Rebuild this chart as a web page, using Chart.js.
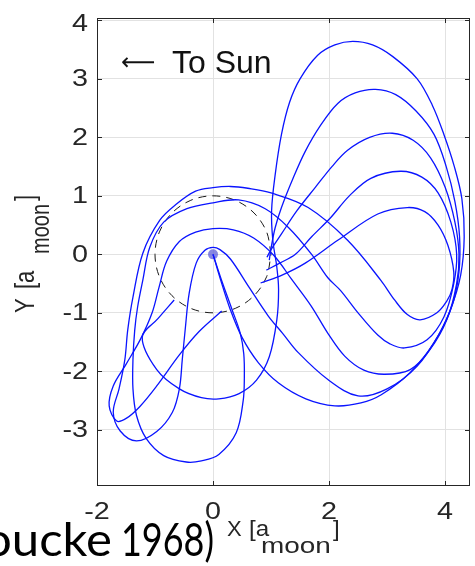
<!DOCTYPE html>
<html>
<head>
<meta charset="utf-8">
<script src="https://cdn.jsdelivr.net/npm/chart.js"></script>
<style>
  html, body { margin: 0; padding: 0; background: #fff; }
  #wrap { width: 475px; height: 566px; overflow: hidden; }
</style>
</head>
<body>
<div id="wrap"><canvas id="orbitChart" width="475" height="566"></canvas></div>
<script>
// -------------------------------
// 1) DATA (units of a_moon)
// -------------------------------

const xTicks = [-2, 0, 2, 4];
const yTicks = [-3, -2, -1, 0, 1, 2, 3, 4];

// moon orbit (dashed)
const moonOrbit = [
  [1, 0], [0.924, 0.383], [0.707, 0.707], [0.383, 0.924], [0, 1],
  [-0.383, 0.924], [-0.707, 0.707], [-0.924, 0.383], [-1, 0],
  [-0.924, -0.383], [-0.707, -0.707], [-0.383, -0.924], [0, -1],
  [0.383, -0.924], [0.707, -0.707], [0.924, -0.383], [1, 0]
];

// earth
const earth = [[0, 0]];

// trajectory through the inner arch and the two small lobes
const trajInner = [
  [0.97, -0.1], [1.0, 0.1], [1.07, 0.45], [1.18, 0.8], [1.38, 1.3], [1.59, 1.76],
  [1.85, 2.2], [2.15, 2.58], [2.45, 2.76], [2.8, 2.82], [3.15, 2.73], [3.5, 2.45],
  [3.81, 2.05], [4.02, 1.5], [4.17, 0.9], [4.25, 0.3], [4.24, -0.3], [4.13, -0.85],
  [3.91, -1.34], [3.52, -1.91], [3.0, -2.3], [2.5, -2.42], [1.98, -2.14], [1.47, -1.68],
  [1.2, -1.35], [0.95, -1.05], [0.62, -0.56], [0.3, -0.08], [0.12, 0.08], [0.0, 0.12],
  [-0.14, 0.07], [-0.29, -0.15], [-0.41, -0.66], [-0.48, -1.29], [-0.53, -1.8],
  [-0.58, -2.3], [-0.7, -2.7], [-0.97, -3.03], [-1.32, -3.19], [-1.6, -3.02],
  [-1.72, -2.7], [-1.62, -2.3], [-1.52, -1.8], [-1.47, -1.29], [-1.38, -0.73],
  [-1.21, 0.02], [-0.92, 0.58], [-0.63, 0.86], [-0.3, 1.08], [0.0, 1.14], [0.3, 1.16],
  [0.6, 1.13], [1.0, 1.05], [1.64, 0.8], [2.32, 0.24], [2.89, -0.44], [3.13, -0.78],
  [3.35, -1.03], [3.57, -1.12], [3.86, -1.0], [4.03, -0.8], [4.12, -0.6], [4.15, -0.3],
  [4.05, 0.15], [3.88, 0.5], [3.65, 0.73], [3.35, 0.8], [2.84, 0.69], [2.15, 0.24],
  [1.59, -0.15], [1.2, -0.35], [0.82, -0.49]
];

// trajectory from earth through the deep bottom loop
const trajDeep = [
  [0.0, 0.0], [0.15, -0.45], [0.33, -0.95], [0.47, -1.35], [0.53, -1.7], [0.54, -2.1],
  [0.52, -2.5], [0.4, -3.05], [0.1, -3.42], [-0.2, -3.53], [-0.46, -3.55], [-0.85, -3.44],
  [-1.15, -3.15], [-1.32, -2.75], [-1.38, -2.3], [-1.38, -1.8], [-1.35, -1.3],
  [-1.3, -0.9], [-1.21, -0.44], [-1.09, 0.12], [-0.85, 0.55], [-0.45, 0.78], [0.0, 0.88],
  [0.44, 0.93], [0.9, 0.78], [1.3, 0.46], [1.7, 0.0], [1.98, -0.4], [2.2, -0.62],
  [2.5, -1.0], [2.84, -1.38], [3.05, -1.53], [3.3, -1.6], [3.69, -1.46], [3.98, -1.07],
  [4.15, -0.5], [4.2, 0.0], [4.1, 0.55], [3.88, 1.05], [3.6, 1.32], [3.23, 1.42],
  [2.72, 1.3], [2.35, 1.0], [2.03, 0.63], [1.7, 0.3], [1.42, 0.0], [1.15, -0.15],
  [0.92, -0.27]
];

// trajectory with the middle lobe and the far left loop
const trajMid = [
  [0.93, -0.05], [1.0, 0.08], [1.18, 0.35], [1.45, 0.75], [1.76, 1.14], [2.05, 1.5],
  [2.32, 1.78], [2.7, 2.0], [3.09, 2.07], [3.45, 1.95], [3.75, 1.65], [4.0, 1.15],
  [4.17, 0.55], [4.24, 0.0], [4.2, -0.5], [4.03, -1.12], [3.74, -1.63], [3.4, -1.97],
  [2.96, -2.05], [2.6, -1.98], [2.27, -1.74], [1.98, -1.35], [1.69, -0.88], [1.35, -0.42],
  [1.05, -0.02], [0.7, 0.28], [0.35, 0.42], [0.0, 0.44], [-0.3, 0.38], [-0.58, 0.22],
  [-0.8, -0.12], [-0.93, -0.56], [-1.05, -1.0], [-1.25, -1.45], [-1.5, -1.88],
  [-1.72, -2.25], [-1.79, -2.59], [-1.66, -2.85], [-1.49, -2.8], [-1.26, -2.6],
  [-0.97, -2.25], [-0.58, -1.72], [-0.24, -1.32], [0.15, -0.97]
];

// trajectory from earth through the big lobe
const trajBig = [
  [0.0, 0.0], [0.12, -0.4], [0.3, -0.95], [0.5, -1.42], [0.78, -1.85], [1.13, -2.2],
  [1.6, -2.47], [2.1, -2.59], [2.55, -2.54], [2.9, -2.4], [3.4, -2.02], [3.81, -1.51],
  [4.09, -0.95], [4.27, -0.35], [4.33, 0.3], [4.29, 0.95], [4.16, 1.5], [3.98, 2.05],
  [3.78, 2.55], [3.52, 3.0], [3.1, 3.38], [2.75, 3.58], [2.41, 3.64], [2.1, 3.58],
  [1.8, 3.4], [1.5, 3.0], [1.32, 2.6], [1.18, 2.05], [1.07, 1.35], [1.01, 0.75],
  [1.03, 0.25], [1.1, -0.22], [1.13, -0.6], [1.1, -1.12], [0.97, -1.75], [0.75, -2.15],
  [0.45, -2.38], [0.1, -2.47], [-0.2, -2.45], [-0.58, -2.3], [-0.97, -1.97],
  [-1.22, -1.42], [-0.95, -1.1], [-0.67, -0.78]
];

const trajectories = [trajInner, trajDeep, trajMid, trajBig];


// -------------------------------
// 2) HELPERS
// -------------------------------

function toPoints(arr) {
  return arr.map(p => ({ x: p[0], y: p[1] }));
}

function drawText(ctx, str, x, y, font, sx, align, baseline, color) {
  ctx.save();
  ctx.translate(x, y);
  ctx.scale(sx, 1);
  ctx.font = font;
  ctx.textAlign = align;
  ctx.textBaseline = baseline;
  ctx.fillStyle = color;
  ctx.fillText(str, 0, 0);
  ctx.restore();
}

// squeeze/stretch a string so it spans [left, right], sy stretches it upward
function fitText(ctx, str, left, right, baseline, font, sy, color) {
  ctx.save();
  ctx.font = font;
  const w = ctx.measureText(str).width;
  ctx.translate(left, baseline);
  ctx.scale((right - left) / w, sy);
  ctx.textAlign = "left";
  ctx.textBaseline = "alphabetic";
  ctx.fillStyle = color;
  ctx.fillText(str, 0, 0);
  ctx.restore();
}

// box, inward ticks, tick labels and all texts (MATLAB look)
const framePlugin = {
  id: "frame",
  afterDraw(chart) {
    const { ctx, chartArea: a, scales } = chart;
    const xs = scales.x, ys = scales.y;
    const ink = "#262626";

    ctx.save();
    ctx.strokeStyle = ink;
    ctx.lineWidth = 1;
    ctx.strokeRect(a.left + 0.5, a.top + 0.5, a.right - a.left - 1, a.bottom - a.top - 1);

    ctx.beginPath();
    xTicks.forEach(v => {
      const px = Math.round(xs.getPixelForValue(v)) + 0.5;
      ctx.moveTo(px, a.bottom); ctx.lineTo(px, a.bottom - 5);
      ctx.moveTo(px, a.top); ctx.lineTo(px, a.top + 5);
    });
    yTicks.forEach(v => {
      const py = Math.round(ys.getPixelForValue(v)) + 0.5;
      ctx.moveTo(a.left, py); ctx.lineTo(a.left + 5, py);
      ctx.moveTo(a.right, py); ctx.lineTo(a.right - 5, py);
    });
    ctx.stroke();

    // tick labels
    const tickFont = "23px 'Liberation Sans', Arial, sans-serif";
    xTicks.forEach(v => {
      drawText(ctx, String(v), xs.getPixelForValue(v), 513, tickFont, 1.25, "center", "middle", ink);
    });
    yTicks.forEach(v => {
      const dy = v === 4 ? 4 : 1;
      drawText(ctx, String(v), 88, ys.getPixelForValue(v) + dy, tickFont, 1.25, "right", "middle", ink);
    });

    // annotation
    drawText(ctx, "\u27F5", 121, 70, "24px 'DejaVu Sans'", 1.0, "left", "alphabetic", "#111");
    drawText(ctx, "To Sun", 172, 73, "32px 'Liberation Sans', Arial, sans-serif", 1.0, "left", "alphabetic", "#111");

    // x axis label
    const lab = "22px 'Liberation Sans', Arial, sans-serif";
    drawText(ctx, "X", 227, 536, lab, 1.0, "left", "alphabetic", ink);
    drawText(ctx, "[a", 249, 536, lab, 1.1, "left", "alphabetic", ink);
    drawText(ctx, "moon", 261, 553, lab, 1.27, "left", "alphabetic", ink);
    drawText(ctx, "]", 333, 536, lab, 1.1, "left", "alphabetic", ink);

    // y axis label (rotated)
    ctx.save();
    ctx.translate(34, 313);
    ctx.scale(1.27, 1);
    ctx.rotate(-Math.PI / 2);
    ctx.font = lab;
    ctx.fillStyle = ink;
    ctx.textAlign = "left";
    ctx.textBaseline = "alphabetic";
    ctx.fillText("Y", 0, 0);
    ctx.fillText("[a", 24, 0);
    ctx.font = "20px 'Liberation Sans', Arial, sans-serif";
    ctx.fillText("moon", 59, 12);
    ctx.font = lab;
    ctx.fillText("]", 112, 0);
    ctx.restore();

    // slide caption cut by the crop
    const cap = "400 44px Lato, 'Open Sans', sans-serif";
    fitText(ctx, "oucke", -16, 112, 556, cap, 1.05, "#000");
    fitText(ctx, "1968)", 121, 214, 556, cap, 1.05, "#000");

    ctx.restore();
  }
};


// -------------------------------
// 3) CHART
// -------------------------------

const datasets = trajectories.map(t => ({
  data: toPoints(t),
  showLine: true,
  borderColor: "#0a14ff",
  borderWidth: 1.3,
  pointRadius: 0,
  tension: 0.35,
  fill: false
}));

datasets.push({
  data: toPoints(moonOrbit),
  showLine: true,
  borderColor: "#1a1a1a",
  borderWidth: 1,
  borderDash: [8, 6],
  pointRadius: 0,
  tension: 0.34,
  fill: false
});

datasets.push({
  data: toPoints(earth),
  showLine: false,
  pointRadius: 5,
  pointBackgroundColor: "rgba(95, 95, 215, 0.75)",
  pointBorderWidth: 0
});

new Chart(document.getElementById("orbitChart"), {
  type: "scatter",
  data: { datasets },
  options: {
    responsive: false,
    animation: false,
    devicePixelRatio: 1,
    layout: { padding: { top: 18, right: 2, left: 0, bottom: 0 } },
    plugins: { legend: { display: false }, tooltip: { enabled: false } },
    scales: {
      x: {
        type: "linear",
        min: -2,
        max: 4.43,
        afterBuildTicks: s => { s.ticks = xTicks.map(v => ({ value: v })); },
        afterFit: s => { s.height = 80; },
        ticks: { display: false },
        grid: { color: "#e2e2e2", drawTicks: false },
        border: { display: false }
      },
      y: {
        type: "linear",
        min: -3.96,
        max: 4.04,
        afterBuildTicks: s => { s.ticks = yTicks.map(v => ({ value: v })); },
        afterFit: s => { s.width = 97; },
        ticks: { display: false },
        grid: { color: "#e2e2e2", drawTicks: false },
        border: { display: false }
      }
    }
  },
  plugins: [framePlugin]
});
</script>
</body>
</html>
